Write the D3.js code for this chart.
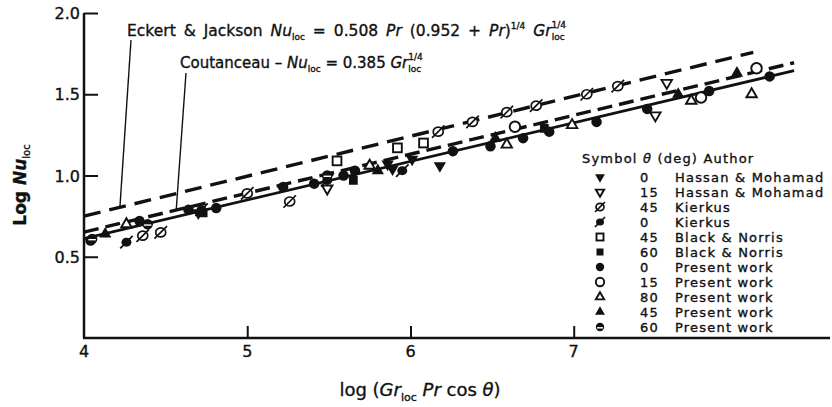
<html>
<head>
<meta charset="utf-8">
<title>Local Nusselt number</title>
<script src="https://cdn.jsdelivr.net/npm/d3@7"></script>
<style>
  body { margin: 0; background: #fff; }
  svg text { font-family: "DejaVu Sans", sans-serif; fill: #111; stroke: #111; stroke-width: 0.35; }
  .it { font-style: italic; }
  .leg { font-size: 13px; letter-spacing: 1.2px; }
</style>
</head>
<body>
<svg width="832" height="407"></svg>
<script>
// tick labels
var xTicks = [4, 5, 6, 7];
var yTicks = [0.5, 1.0, 1.5, 2.0];
var yTickLabels = ['0.5', '1.0', '1.5', '2.0'];

// correlation lines (end points)
var eckertX = [4.0, 8.1],  eckertY = [0.75, 1.758];
var coutX   = [4.0, 8.35], coutY   = [0.652, 1.694];
var fitX    = [4.0, 8.35], fitY    = [0.612, 1.645];

// legend rows
var legendSym    = ['triDownFill', 'triDownOpen', 'slashOpen', 'slashFill', 'sqOpen', 'sqFill',
                    'circFill', 'circOpen', 'triUpOpen', 'triUpFill', 'circHalf'];
var legendTheta  = ['0', '15', '45', '0', '45', '60', '0', '15', '80', '45', '60'];
var legendAuthor = ['Hassan & Mohamad', 'Hassan & Mohamad', 'Kierkus', 'Kierkus', 'Black & Norris',
                    'Black & Norris', 'Present work', 'Present work', 'Present work', 'Present work',
                    'Present work'];

// data points, one pair of arrays per series
var hassan0X  = [4.70, 5.86, 5.89, 6.01, 6.18],  hassan0Y  = [0.77, 1.07, 1.04, 1.10, 1.06];
var hassan15X = [5.49, 7.50, 7.57],              hassan15Y = [0.92, 1.37, 1.57];
var kier45X   = [4.36, 4.47, 5.00, 5.26, 6.17, 6.38, 6.59, 6.77, 7.08, 7.27],
    kier45Y   = [0.63, 0.65, 0.89, 0.84, 1.27, 1.33, 1.39, 1.43, 1.50, 1.55];
var kier0X    = [4.26, 4.72, 5.49, 5.95],        kier0Y    = [0.59, 0.79, 0.97, 1.03];
var black45X  = [5.55, 5.92, 6.08],              black45Y  = [1.09, 1.17, 1.20];
var black60X  = [4.73, 5.65, 6.82],              black60Y  = [0.77, 0.97, 1.29];
var pres0X    = [4.04, 4.34, 4.64, 4.81, 5.22, 5.41, 5.59, 5.66, 6.26, 6.49, 6.69, 6.85, 7.14, 7.45, 7.83, 8.20],
    pres0Y    = [0.60, 0.72, 0.79, 0.80, 0.93, 0.95, 1.00, 1.03, 1.15, 1.18, 1.23, 1.27, 1.33, 1.41, 1.52, 1.61];
var pres15X   = [6.64, 7.78, 8.12],              pres15Y   = [1.30, 1.48, 1.66];
var pres80X   = [4.26, 5.75, 6.59, 6.99, 7.72, 8.09], pres80Y = [0.70, 1.06, 1.19, 1.31, 1.46, 1.50];
var pres45X   = [4.13, 5.80, 6.52, 7.64, 8.00], pres45Y   = [0.64, 1.03, 1.23, 1.50, 1.63];
var pres60X   = [4.05, 4.39, 5.49],              pres60Y   = [0.61, 0.70, 1.00];

var series = [
  ['triDownFill', hassan0X, hassan0Y], ['triDownOpen', hassan15X, hassan15Y],
  ['slashOpen', kier45X, kier45Y], ['slashFill', kier0X, kier0Y],
  ['sqOpen', black45X, black45Y], ['sqFill', black60X, black60Y],
  ['circFill', pres0X, pres0Y], ['circOpen', pres15X, pres15Y],
  ['triUpOpen', pres80X, pres80Y], ['triUpFill', pres45X, pres45Y],
  ['circHalf', pres60X, pres60Y]
];

var svg = d3.select('svg');
var x = d3.scaleLinear().domain([4, 8.57]).range([84, 830]);
var y = d3.scaleLinear().domain([0, 2]).range([338, 13]);

// axes
svg.append('line').attr('x1', x(4)).attr('x2', x(4)).attr('y1', y(0)).attr('y2', y(2))
  .attr('stroke', '#111').attr('stroke-width', 2.5);
svg.append('line').attr('x1', x(4) - 1).attr('x2', x(8.57)).attr('y1', y(0)).attr('y2', y(0))
  .attr('stroke', '#111').attr('stroke-width', 2.5);

var yAxis = d3.axisRight(y).tickValues(yTicks).tickSize(14).tickFormat('');
var gy = svg.append('g').attr('transform', 'translate(' + x(4) + ',0)').call(yAxis);
gy.select('.domain').remove();
gy.selectAll('line').attr('stroke', '#111').attr('stroke-width', 2);
svg.selectAll('.ylab').data(yTicks).enter().append('text')
  .attr('x', x(4) - 4).attr('y', function(d) { return y(d) + 6; })
  .attr('text-anchor', 'end').style('font-size', '16px')
  .text(function(d, i) { return yTickLabels[i]; });

var xAxis = d3.axisTop(x).tickValues(xTicks.slice(1)).tickSize(12).tickFormat('');
var gx = svg.append('g').attr('transform', 'translate(0,' + y(0) + ')').call(xAxis);
gx.select('.domain').remove();
gx.selectAll('line').attr('stroke', '#111').attr('stroke-width', 2);
svg.selectAll('.xlab').data(xTicks).enter().append('text')
  .attr('x', function(d) { return x(d); }).attr('y', y(0) + 19)
  .attr('text-anchor', 'middle').style('font-size', '16px')
  .text(function(d) { return d; });

// axis titles
var xt = svg.append('text').attr('x', 420).attr('y', 396).attr('text-anchor', 'middle')
  .style('font-size', '18px');
xt.append('tspan').text('log (');
xt.append('tspan').attr('class', 'it').text('Gr');
xt.append('tspan').style('font-size', '11px').attr('dy', 5).text('loc');
xt.append('tspan').attr('class', 'it').attr('dy', -5).text(' Pr');
xt.append('tspan').text(' cos ');
xt.append('tspan').attr('class', 'it').text('θ');
xt.append('tspan').text(')');

var yt = svg.append('text').attr('transform', 'translate(26,' + 185 + ') rotate(-90)')
  .attr('text-anchor', 'middle').style('font-size', '17px').style('font-weight', 'bold');
yt.append('tspan').text('Log ');
yt.append('tspan').attr('class', 'it').text('Nu');
yt.append('tspan').style('font-size', '10px').style('font-weight', 'normal').attr('dy', 4).text('loc');

// correlation lines
function pts(xs, ys) { return xs.map(function(v, i) { return [x(v), y(ys[i])]; }); }
var line = d3.line();
svg.append('path').attr('d', line(pts(eckertX, eckertY))).attr('fill', 'none')
  .attr('stroke', '#111').attr('stroke-width', 3.4).attr('stroke-dasharray', '17,9');
svg.append('path').attr('d', line(pts(coutX, coutY))).attr('fill', 'none')
  .attr('stroke', '#111').attr('stroke-width', 3.4).attr('stroke-dasharray', '15,7');
svg.append('path').attr('d', line(pts(fitX, fitY))).attr('fill', 'none')
  .attr('stroke', '#111').attr('stroke-width', 2.8);

// symbols
function drawSym(g, type, s) {
  var k = s || 1;
  if (type.indexOf('tri') === 0) {
    var open = type.indexOf('Open') > 0;
    var p = d3.symbol().type(d3.symbolTriangle).size((open ? 30 : 42) * k * k)();
    var t = g.append('path').attr('d', p)
      .attr('transform', type.indexOf('Down') > 0 ? 'rotate(180)' : null);
    if (!open) t.attr('fill', '#111');
    else t.attr('fill', '#fff').attr('stroke', '#111').attr('stroke-width', 1.9);
  } else if (type.indexOf('sq') === 0) {
    var r = g.append('rect').attr('x', -3.5 * k).attr('y', -3.5 * k).attr('width', 7 * k).attr('height', 7 * k);
    if (type === 'sqFill') r.attr('fill', '#111');
    else r.attr('fill', '#fff').attr('stroke', '#111').attr('stroke-width', 1.9);
  } else if (type.indexOf('slash') === 0) {
    var c = g.append('ellipse').attr('rx', 4 * k).attr('ry', 3.6 * k);
    if (type === 'slashFill') c.attr('fill', '#111');
    else c.attr('fill', '#fff').attr('stroke', '#111').attr('stroke-width', 1.7);
    g.append('line').attr('x1', -5 * k).attr('y1', 5 * k).attr('x2', 5 * k).attr('y2', -5 * k)
      .attr('stroke', '#111').attr('stroke-width', 1.7);
  } else {
    var cc = g.append('circle').attr('r', 4.2 * k);
    if (type === 'circOpen') cc.attr('fill', '#fff').attr('stroke', '#111').attr('stroke-width', 1.9);
    else cc.attr('fill', '#111');
    if (type === 'circHalf') {
      g.append('line').attr('x1', -3 * k).attr('x2', 3 * k).attr('y1', 0.8).attr('y2', 0.8)
        .attr('stroke', '#fff').attr('stroke-width', 1.4);
    }
  }
}

series.forEach(function(s) {
  var xs = s[1], ys = s[2];
  var g = svg.append('g');
  xs.forEach(function(v, i) {
    var gg = g.append('g').attr('transform', 'translate(' + x(v) + ',' + y(ys[i]) + ')');
    drawSym(gg, s[0], 1.25);
  });
});

// legend
var lh = svg.append('text').attr('class', 'leg').attr('x', 582).attr('y', 163);
lh.append('tspan').text('Symbol ');
lh.append('tspan').attr('class', 'it').text('θ');
lh.append('tspan').text(' (deg) Author');

legendSym.forEach(function(t, i) {
  var cy = 177 + i * 15;
  var g = svg.append('g').attr('transform', 'translate(600,' + cy + ')');
  drawSym(g, t, 1);
  svg.append('text').attr('class', 'leg').attr('x', 640).attr('y', cy + 5).text(legendTheta[i]);
  svg.append('text').attr('class', 'leg').attr('x', 675).attr('y', cy + 5).text(legendAuthor[i]);
});

// annotations with leader lines
var a1 = svg.append('text').attr('x', 127).attr('y', 36).style('font-size', '15.5px')
  .style('word-spacing', '3px');
a1.append('tspan').text('Eckert & Jackson ');
a1.append('tspan').attr('class', 'it').text('Nu');
a1.append('tspan').style('font-size', '9px').attr('dy', 4).text('loc');
a1.append('tspan').attr('dy', -4).text(' = 0.508 ');
a1.append('tspan').attr('class', 'it').text('Pr');
a1.append('tspan').text(' (0.952 + ');
a1.append('tspan').attr('class', 'it').text('Pr');
a1.append('tspan').text(')');
a1.append('tspan').style('font-size', '9px').attr('dy', -7).text('1/4');
a1.append('tspan').attr('class', 'it').attr('dy', 7).text(' Gr');
a1.append('tspan').style('font-size', '9px').attr('dy', 4).text('loc');
a1.append('tspan').style('font-size', '9px').attr('dx', -13).attr('dy', -12).text('1/4');

var a2 = svg.append('text').attr('x', 180).attr('y', 68).style('font-size', '15px');
a2.append('tspan').text('Coutanceau – ');
a2.append('tspan').attr('class', 'it').text('Nu');
a2.append('tspan').style('font-size', '9px').attr('dy', 4).text('loc');
a2.append('tspan').attr('dy', -4).text(' = 0.385 ');
a2.append('tspan').attr('class', 'it').text('Gr');
a2.append('tspan').style('font-size', '9px').attr('dy', 4).text('loc');
a2.append('tspan').style('font-size', '9px').attr('dx', -13).attr('dy', -12).text('1/4');

function lineAt(xs, ys, v) { return ys[0] + (ys[1] - ys[0]) * (v - xs[0]) / (xs[1] - xs[0]); }
var lead1 = 4.22, lead2 = 4.565;
svg.append('line').attr('x1', 131).attr('y1', 40).attr('x2', x(lead1)).attr('y2', y(lineAt(eckertX, eckertY, lead1)))
  .attr('stroke', '#111').attr('stroke-width', 1.4);
svg.append('line').attr('x1', 186).attr('y1', 73).attr('x2', x(lead2)).attr('y2', y(lineAt(coutX, coutY, lead2)))
  .attr('stroke', '#111').attr('stroke-width', 1.4);
</script>
</body>
</html>
